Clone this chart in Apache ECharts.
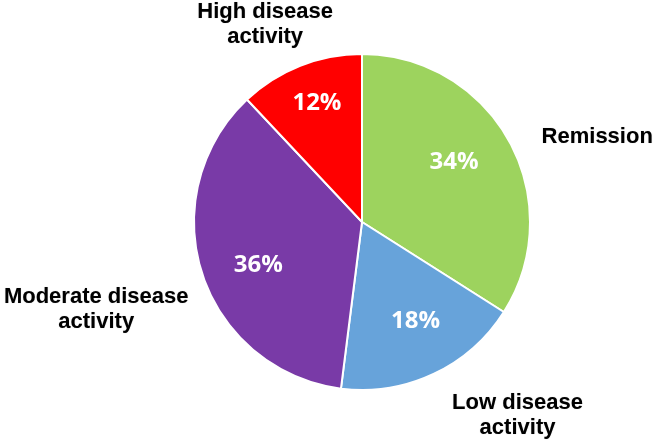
<!DOCTYPE html>
<html>
<head>
<meta charset="utf-8">
<script src="https://cdn.jsdelivr.net/npm/echarts@6/dist/echarts.min.js"></script>
<style>html,body{margin:0;padding:0;background:#fff}#c{width:656px;height:441px}</style>
</head>
<body>
<div id="c"></div>
<script>
const categories = ['Remission', 'Low disease\nactivity', 'Moderate disease\nactivity', 'High disease\nactivity'];
const values = [34, 18, 36, 12];
const colors = ['#9DD35E', '#67A3DA', '#793AA7', '#FF0000'];

// label tuning (px offsets from anchor points on the pie)
const innerOffsets = [[-8, -5], [5, -4], [5, 8], [-3, -13]];
const outerOffsets = [[88, -4], [84, 41], [-106, 36], [-35, -41]];

const cx = 362, cy = 222, R = 168;
const total = values.reduce((a, b) => a + b, 0);
const midAngles = [];
{
  let acc = 0;
  values.forEach(v => { midAngles.push((acc + v / 2) / total * 2 * Math.PI); acc += v; });
}
function anchor(i, k) {
  const a = midAngles[i];
  return [cx + Math.sin(a) * R * k, cy - Math.cos(a) * R * k];
}

const chart = echarts.init(document.getElementById('c'), null, {renderer: 'canvas'});
const data = categories.map((n, i) => ({name: n, value: values[i], itemStyle: {color: colors[i]}}));

chart.setOption({
  animation: false,
  series: [
    {
      type: 'pie',
      center: [cx, cy],
      radius: [0, R],
      startAngle: 90,
      clockwise: true,
      data: data,
      itemStyle: {borderColor: '#fff', borderWidth: 2},
      label: {
        show: true,
        position: 'inside',
        formatter: p => p.value + '%',
        color: '#fff',
        fontFamily: 'Open Sans',
        fontWeight: 'bold',
        fontSize: 24
      },
      labelLine: {show: false},
      labelLayout: p => {
        const i = p.dataIndex;
        const [x, y] = anchor(i, 0.68);
        return {x: x + innerOffsets[i][0], y: y + innerOffsets[i][1], align: 'center', verticalAlign: 'middle'};
      }
    },
    {
      type: 'pie',
      center: [cx, cy],
      radius: [0, R],
      startAngle: 90,
      clockwise: true,
      silent: true,
      data: data.map(d => ({name: d.name, value: d.value, itemStyle: {color: 'rgba(0,0,0,0)'}})),
      itemStyle: {borderWidth: 0},
      label: {
        show: true,
        position: 'outside',
        overflow: 'none',
        width: 300,
        formatter: p => p.name,
        color: '#000',
        fontFamily: 'Liberation Sans',
        fontWeight: 'bold',
        fontSize: 22,
        lineHeight: 25,
        align: 'center',
        textShadowColor: 'rgba(0,0,0,0.25)',
        textShadowBlur: 1
      },
      labelLine: {show: false},
      labelLayout: p => {
        const i = p.dataIndex;
        const [x, y] = anchor(i, 1.0);
        return {x: x + outerOffsets[i][0], y: y + outerOffsets[i][1], align: 'center', verticalAlign: 'middle'};
      }
    }
  ]
});
</script>
</body>
</html>
